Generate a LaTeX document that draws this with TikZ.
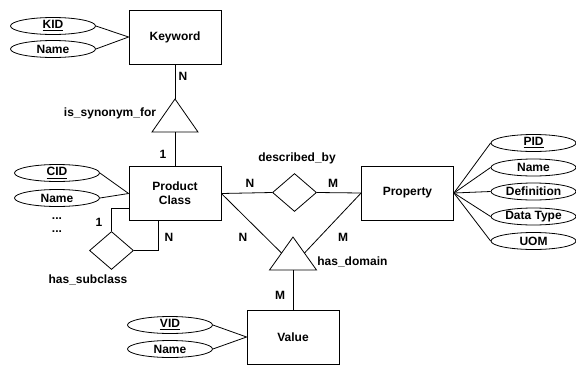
\documentclass[tikz,border=0pt]{standalone}
\usepackage{fontspec}
\setmainfont{Liberation Sans}
\usetikzlibrary{shapes.geometric,calc}

\begin{document}
\begin{tikzpicture}[x=0.75pt,y=-0.75pt,line width=0.6pt,
  every node/.style={font=\fontsize{9}{10.5}\selectfont\bfseries},
  entity/.style={draw,minimum width=69pt,minimum height=40.5pt,align=center,inner sep=0pt},
  attr/.style={draw,ellipse,minimum width=63.75pt,minimum height=12.75pt,inner sep=0pt},
  rel/.style={draw,diamond,minimum width=33pt,minimum height=28.5pt,inner sep=0pt},
  card/.style={inner sep=1pt}]
  \useasboundingbox (0,0) rectangle (576,365);
  % entities
  \node[entity] (kw) at (175,37) {Keyword};
  \node[entity] (pc) at (175,193.5) {Product\\Class};
  \node[entity] (prop) at (407.5,193) {Property};
  \node[entity] (val) at (293,337) {Value};
  % attributes
  \node[attr] (kid) at (53,26) {\underline{KID}};
  \node[attr] (kname) at (53,49) {Name};
  \node[attr] (cid) at (57,173) {\underline{CID}};
  \node[attr] (cname) at (57,198) {Name};
  \node (dots1) at (57,219) {...};
  \node (dots2) at (57,232) {...};
  \node[attr] (pid) at (533.5,143) {\underline{PID}};
  \node[attr] (pname) at (533.5,167.5) {Name};
  \node[attr] (pdef) at (533.5,191.5) {Definition};
  \node[attr] (ptype) at (533.5,216.5) {Data Type};
  \node[attr] (puom) at (533.5,241) {UOM};
  \node[attr] (vid) at (170,325) {\underline{VID}};
  \node[attr] (vname) at (170,349) {Name};
  \foreach \a in {kid,kname} \draw (\a.east) -- (kw.west);
  \foreach \a in {cid,cname} \draw (\a.east) -- (pc.west);
  \foreach \a in {vid,vname} \draw (\a.east) -- (val.west);
  \foreach \a in {pid,pname,pdef,ptype,puom} \draw (prop.east) -- (\a.west);
  % relationships
  \node[rel] (descr) at (294.5,192.5) {};
  \node[rel] (sub) at (111.5,250.5) {};
  \coordinate (syn) at (175,99);
  \draw (syn) -- ++(23,33) -- ++(-46,0) -- cycle;
  \coordinate (synB) at (175,132);
  \coordinate (dom) at (293,237);
  \draw (dom) -- ++(23.5,33) -- ++(-47,0) -- cycle;
  \coordinate (domB) at (293,270);
  \coordinate (domL) at (281.5,253);
  \coordinate (domR) at (304.5,253);
  % connectors
  \draw (kw) -- (syn);
  \draw (synB) -- (pc);
  \draw (pc.east) -- (descr.west);
  \draw (descr.east) -- (prop.west);
  \draw (pc.east) -- (domL);
  \draw (prop.west) -- (domR);
  \draw (domB) -- (val);
  \draw ($(pc.south west)+(0,-13)$) -| (sub.north);
  \draw (sub.east) -| ($(pc.south west)+(30,0)$);
  % labels
  \node[card] (c1) at (183,76) {N};
  \node[card] (c2) at (163,154) {1};
  \node[card] (c3) at (250,183) {N};
  \node[card] (c4) at (333,183) {M};
  \node[card] (c5) at (243,237) {N};
  \node[card] (c6) at (343,237) {M};
  \node[card] (c7) at (280,295) {M};
  \node[card] (c8) at (99,222) {1};
  \node[card] (c9) at (169,237) {N};
  \node (synlbl) at (110,113) {is\_synonym\_for};
  \node (descrlbl) at (297,158) {described\_by};
  \node[anchor=west,inner sep=0pt] (domlbl) at (317,262) {has\_domain};
  \node (sublbl) at (88,280) {has\_subclass};
\end{tikzpicture}
\end{document}
